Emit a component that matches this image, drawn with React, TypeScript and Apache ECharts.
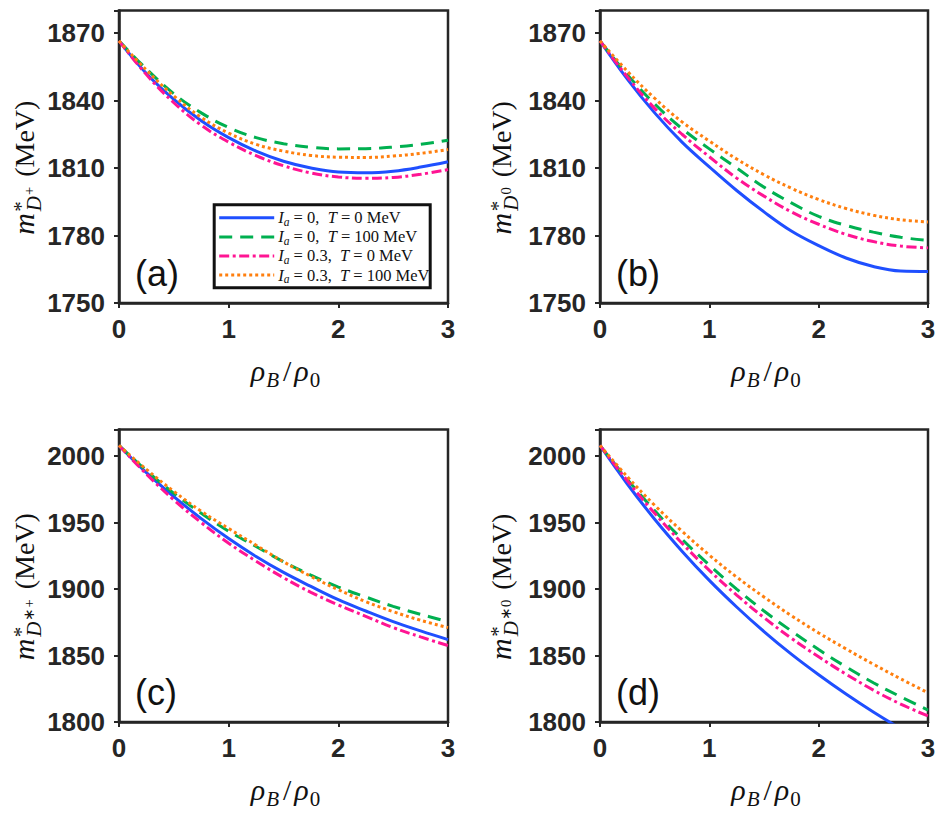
import React, { useEffect, useRef } from 'react';
import * as echarts from 'echarts';

// ---------------- data ----------------
const rho = [0, 0.25, 0.5, 0.75, 1, 1.25, 1.5, 1.75, 2, 2.25, 2.5, 2.75, 3];
const xTickLabels = ['0', '1', '2', '3'];

const seriesNames = ['Ia=0, T=0 MeV', 'Ia=0, T=100 MeV', 'Ia=0.3, T=0 MeV', 'Ia=0.3, T=100 MeV'];
const isospin = ['0', '0', '0.3', '0.3'];
const temps = ['0', '100', '0', '100'];

// (a) D+
const dPlusIa0T0 = [1866.5, 1852, 1840.5, 1831, 1823.5, 1817.5, 1813, 1810, 1808.2, 1807.9, 1808.6, 1810.4, 1812.8];
const dPlusIa0T100 = [1866.5, 1854, 1843, 1834.5, 1828, 1823.5, 1820.8, 1819.2, 1818.5, 1818.6, 1819.3, 1820.5, 1822.3];
const dPlusIa03T0 = [1866.5, 1851.5, 1839, 1829, 1821.5, 1815.5, 1811, 1807.8, 1806, 1805.4, 1805.8, 1807.2, 1809.3];
const dPlusIa03T100 = [1866.5, 1853.5, 1842, 1832.5, 1825.5, 1820.5, 1817.5, 1815.6, 1814.8, 1814.7, 1815.3, 1816.5, 1818.2];

// (b) D0
const dZeroIa0T0 = [1866.5, 1849.5, 1834.5, 1821.5, 1810.5, 1800, 1790.5, 1782, 1775.5, 1770, 1766.2, 1764.2, 1764];
const dZeroIa0T100 = [1866.5, 1851.5, 1838.5, 1827.5, 1818.5, 1810, 1801.5, 1794.5, 1788.5, 1784.5, 1781.5, 1779.2, 1777.8];
const dZeroIa03T0 = [1866.5, 1850.5, 1836.5, 1825, 1815, 1805.5, 1797.5, 1790.5, 1785, 1780.5, 1777.3, 1775.3, 1774.5];
const dZeroIa03T100 = [1866.5, 1853, 1841, 1830.5, 1822, 1814, 1807, 1801, 1796, 1792, 1789, 1787, 1786];

// (c) D*+
const dStarPlusIa0T0 = [2008, 1987.5, 1969.5, 1953, 1938, 1924.5, 1912.5, 1902, 1892, 1883.5, 1875.5, 1868.5, 1862];
const dStarPlusIa0T100 = [2008, 1989, 1972, 1957, 1943.5, 1932, 1920.5, 1910.5, 1901.5, 1894, 1887, 1881, 1875.5];
const dStarPlusIa03T0 = [2008, 1986.5, 1967, 1950, 1934.5, 1921, 1908.5, 1897.5, 1888, 1879.5, 1871, 1864, 1857.5];
const dStarPlusIa03T100 = [2008, 1990, 1973.5, 1958.5, 1945.5, 1933, 1920.5, 1909.5, 1899.5, 1890.5, 1883, 1876.5, 1871];

// (d) D*0
const dStarZeroIa0T0 = [2008, 1979, 1952.5, 1928.5, 1906.5, 1886.5, 1868, 1851, 1835.5, 1821, 1807.5, 1795, 1783.5];
const dStarZeroIa0T100 = [2008, 1982.5, 1959, 1937.5, 1918, 1900, 1883.5, 1868.5, 1854.5, 1841.5, 1829.5, 1819, 1809];
const dStarZeroIa03T0 = [2008, 1981.5, 1957, 1934.5, 1914, 1895.5, 1878.5, 1863, 1849, 1836, 1824, 1813.5, 1804.5];
const dStarZeroIa03T100 = [2008, 1984.5, 1963, 1943.5, 1925.5, 1909, 1894, 1880, 1867, 1855, 1843.5, 1832.5, 1822];

const panelLetters = ['(a)', '(b)', '(c)', '(d)'];
const yMin = [1750, 1750, 1800, 1800];
const yMax = [1880, 1880, 2020, 2020];
const yStep = [30, 30, 50, 50];
const yLabelSup = ['+', '0', '\u2217+', '\u22170'];

const panelData = [
  [dPlusIa0T0, dPlusIa0T100, dPlusIa03T0, dPlusIa03T100],
  [dZeroIa0T0, dZeroIa0T100, dZeroIa03T0, dZeroIa03T100],
  [dStarPlusIa0T0, dStarPlusIa0T100, dStarPlusIa03T0, dStarPlusIa03T100],
  [dStarZeroIa0T0, dStarZeroIa0T100, dStarZeroIa03T0, dStarZeroIa03T100],
];

// ---------------- styles ----------------
const lineColors = ['#1f4fff', '#00b050', '#ff1493', '#ff7f0e'];
const lineDashes: any[] = ['solid', [13, 8], [10, 3.5, 3, 3.5], [3, 3]];
const AX = '#262626';
const SERIF = '"Liberation Serif", "Times New Roman", serif';
const SANS = '"Liberation Sans", Arial, Helvetica, sans-serif';

const grids = [
  { left: 119, top: 10.5, width: 329, height: 292.5 },
  { left: 600, top: 10.5, width: 328, height: 292.5 },
  { left: 119, top: 429.5, width: 329, height: 292.5 },
  { left: 600, top: 429.5, width: 328, height: 292.5 },
];

// ---------------- math-like text helper ----------------
let measureCtx: CanvasRenderingContext2D | null = null;
function measure(t: string, fs: number, it?: boolean) {
  if (!measureCtx && typeof document !== 'undefined') {
    measureCtx = document.createElement('canvas').getContext('2d');
  }
  if (!measureCtx) return fs * 0.5 * t.length;
  measureCtx.font = `${it ? 'italic ' : ''}${fs}px ${SERIF}`;
  return measureCtx.measureText(t).width;
}

type Piece = { t: string; fs: number; it?: boolean; dy?: number; dx?: number; hold?: boolean };

function mathLabel(pieces: Piece[], x: number, y: number, rotation: number, anchor: 'center' | 'left', z = 50) {
  let cursor = 0;
  const items: { x: number; p: Piece }[] = [];
  for (const p of pieces) {
    cursor += p.dx || 0;
    const w = measure(p.t, p.fs, p.it);
    items.push({ x: cursor, p });
    if (!p.hold) cursor += w;
  }
  const shift = anchor === 'center' ? -cursor / 2 : 0;
  return {
    type: 'group',
    x,
    y,
    rotation,
    silent: true,
    children: items.map(({ x: px, p }) => ({
      type: 'text',
      x: px + shift,
      y: (p.dy || 0) - 0.3375 * p.fs,
      z,
      silent: true,
      style: {
        text: p.t,
        fontSize: p.fs,
        fontFamily: SERIF,
        fontStyle: p.it ? 'italic' : 'normal',
        fill: '#111',
        align: 'left',
        verticalAlign: 'middle',
      },
    })),
  };
}

function yTitlePieces(sup: string): Piece[] {
  return [
    { t: 'm', fs: 30, it: true },
    { t: '*', fs: 21, dy: -6, dx: 1.5, hold: true },
    { t: 'D', fs: 21, it: true, dy: 7, dx: 0.5 },
    { t: sup, fs: 14.5, dy: -0.5, dx: 1 },
    { t: '(MeV)', fs: 28, dx: 10 },
  ];
}

const xTitlePieces: Piece[] = [
  { t: '\u03c1', fs: 30, it: true },
  { t: 'B', fs: 21, it: true, dy: 6, dx: 1 },
  { t: '/', fs: 30, dx: 4 },
  { t: '\u03c1', fs: 30, it: true, dx: 3 },
  { t: '0', fs: 21, dy: 6, dx: 1 },
];

function legendPieces(ia: string, t: string): Piece[] {
  return [
    { t: 'I', fs: 16.5, it: true },
    { t: 'a', fs: 11.5, it: true, dy: 2.5 },
    { t: ` = ${ia},\u2002`, fs: 16.5 },
    { t: 'T', fs: 16.5, it: true },
    { t: ` = ${t} MeV`, fs: 16.5 },
  ];
}

function buildOption() {
  const xAxis: any[] = [];
  const yAxis: any[] = [];
  const series: any[] = [];
  const graphic: any[] = [];

  grids.forEach((g, i) => {
    xAxis.push({
      gridIndex: i,
      type: 'value',
      min: 0,
      max: 3,
      interval: 1,
      axisLine: { show: true, onZero: false, lineStyle: { color: AX, width: 2.5 } },
      axisTick: { show: true, length: 5, lineStyle: { color: AX, width: 2 } },
      axisLabel: {
        color: AX,
        fontSize: 26,
        fontWeight: 'bold',
        fontFamily: SANS,
        margin: 13,
        formatter: (v: number) => xTickLabels[Math.round(v)] ?? '',
      },
      splitLine: { show: false },
    });
    yAxis.push({
      gridIndex: i,
      type: 'value',
      min: yMin[i],
      max: yMax[i],
      interval: yStep[i],
      axisLine: { show: true, onZero: false, lineStyle: { color: AX, width: 2.5 } },
      axisTick: { show: true, length: 5, lineStyle: { color: AX, width: 2 } },
      axisLabel: {
        color: AX,
        fontSize: 26,
        fontWeight: 'bold',
        fontFamily: SANS,
        margin: 14,
        formatter: (v: number) => ((v - yMin[i]) % yStep[i] === 0 && v < yMax[i] ? String(v) : ''),
      },
      splitLine: { show: false },
    });
    panelData[i].forEach((arr, k) => {
      series.push({
        name: seriesNames[k],
        type: 'line',
        xAxisIndex: i,
        yAxisIndex: i,
        data: rho.map((r, j) => [r, arr[j]]),
        smooth: 0.4,
        symbol: 'none',
        clip: true,
        color: lineColors[k],
        lineStyle: { color: lineColors[k], width: 3, type: lineDashes[k], cap: 'butt' },
        z: 2 + k,
      });
    });

    // axis titles
    const cx = g.left + g.width / 2 + 2;
    const xBase = g.top + g.height + 78;
    graphic.push(mathLabel(xTitlePieces, cx, xBase, 0, 'center'));
    const yTitleX = i % 2 === 0 ? 34 : 511;
    const yTitleY = g.top + g.height / 2 + 11;
    graphic.push(mathLabel(yTitlePieces(yLabelSup[i]), yTitleX, yTitleY, Math.PI / 2, 'center'));

    // panel letter
    graphic.push({
      type: 'text',
      x: g.left + 16,
      y: g.top + g.height - 30,
      z: 50,
      silent: true,
      style: {
        text: panelLetters[i],
        fontSize: 36,
        fontFamily: SANS,
        fill: '#111',
        align: 'left',
        verticalAlign: 'middle',
      },
    });
  });

  // legend box in panel (a)
  const lgX = 214.2;
  const lgY = 204.8;
  const rowH = 19.1;
  graphic.push({
    type: 'rect',
    z: 100,
    silent: true,
    shape: { x: lgX, y: lgY, width: 216, height: 83 },
    style: { fill: '#ffffff', stroke: '#111', lineWidth: 3 },
  });
  seriesNames.forEach((_, k) => {
    const cy = lgY + 13 + k * rowH;
    graphic.push({
      type: 'line',
      z: 101,
      silent: true,
      shape: { x1: lgX + 5, y1: cy, x2: lgX + 60, y2: cy },
      style: {
        stroke: lineColors[k],
        lineWidth: 3,
        lineDash: Array.isArray(lineDashes[k]) ? lineDashes[k] : null,
        lineCap: 'butt',
      },
    });
    graphic.push(mathLabel(legendPieces(isospin[k], temps[k]), lgX + 64, cy + 5.5, 0, 'left', 102));
  });

  return {
    animation: false,
    backgroundColor: '#ffffff',
    grid: grids.map((g) => ({ ...g, show: true, borderColor: AX, borderWidth: 2.5, backgroundColor: 'transparent', containLabel: false })),
    xAxis,
    yAxis,
    series,
    graphic,
  };
}

export default function App() {
  const ref = useRef<HTMLDivElement>(null);
  useEffect(() => {
    if (!ref.current) return;
    const chart = echarts.init(ref.current, undefined, { renderer: 'svg' });
    chart.setOption(buildOption() as any);
    return () => chart.dispose();
  }, []);
  return <div ref={ref} style={{ width: 941, height: 834, position: 'absolute', left: 0, top: 0, background: '#fff' }} />;
}
